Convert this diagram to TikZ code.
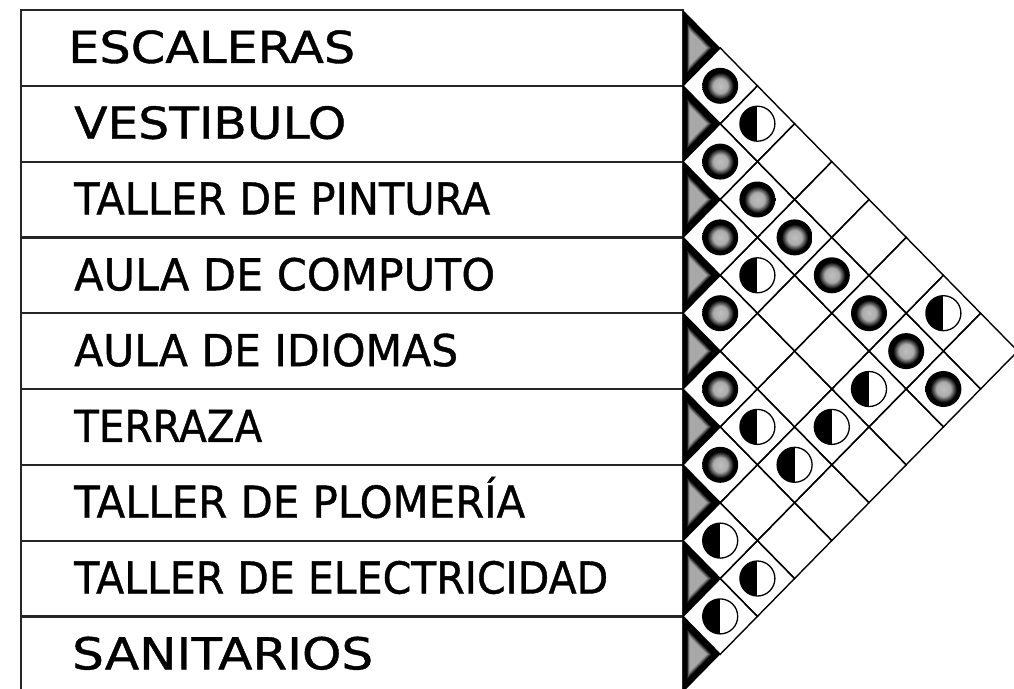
\documentclass[tikz,border=0pt]{standalone}
\usepackage{fontspec}
\setmainfont{DejaVu Sans}
\newfontfamily\labelfont{DejaVu Sans}[UprightFeatures={FakeBold=0.9}]
\usepackage{graphicx}
\pgfdeclareradialshading{dotshade}{\pgfpoint{0bp}{0bp}}{color(0bp)=(black!25); color(10bp)=(black!33); color(18.5bp)=(black); color(25bp)=(black); color(50bp)=(black)}
\tikzset{
  tableline/.style={line width=2.2pt, draw=black!85},
  gridline/.style={line width=1.4pt, draw=black, line join=miter},
  rowtext/.style={anchor=base west, inner sep=0pt, font=\labelfont\fontsize{44}{50}\selectfont},
  gdot/.style={circle, inner sep=0pt, minimum size=36pt, shade, shading=dotshade},
  hdot/.style={circle, draw=black, line width=1.3pt, inner sep=0pt, minimum size=35pt, fill=white,
    path picture={\fill[black] (path picture bounding box.south) rectangle (path picture bounding box.north west);}},
}
\begin{document}
\begin{tikzpicture}[x=1pt,y=-1pt]
\useasboundingbox (0,0) rectangle (1014,688);
\clip (0,0) rectangle (1014,688);
\def\hx{37.2}
\def\hy{37.9}
% table frame and row separators
\draw[tableline] (21,700) -- (21,10) -- (683,10) -- (683,700);
\foreach \k in {1,...,8} {
  \draw[tableline] (21,{10+2*\hy*\k}) -- (683,{10+2*\hy*\k});
}
% row labels
\foreach \i/\xs/\w/\t in {1/68/287/ESCALERAS, 2/74/272/VESTIBULO, 3/74/416/TALLER DE PINTURA, 4/74/421/AULA DE COMPUTO, 5/74/384/AULA DE IDIOMAS, 6/74/188/TERRAZA, 7/74/451/TALLER DE PLOMERÍA, 8/74/534/TALLER DE ELECTRICIDAD, 9/72/301/SANITARIOS} {
  \node[rowtext] (r\i) at (\xs,{10+\hy*(2*\i-1)+15}) {\resizebox{\w pt}{\height}{\t}};
}
% diamond grid cells
\foreach \i in {1,...,8} {
  \pgfmathtruncatemacro\js{\i+1}
  \foreach \j in {\js,...,9} {
    \pgfmathsetmacro\cx{683+\hx*(\j-\i)}
    \pgfmathsetmacro\cy{10+\hy*(\i+\j-1)}
    \draw[gridline] ({\cx-\hx},\cy) -- (\cx,{\cy-\hy}) -- ({\cx+\hx},\cy) -- (\cx,{\cy+\hy}) -- cycle;
  }
}
% row triangles
\foreach \i in {1,...,9} {
  \pgfmathsetmacro\yt{10+2*\hy*(\i-1)}
  \pgfmathsetmacro\yb{10+2*\hy*\i}
  \pgfmathsetmacro\yc{10+\hy*(2*\i-1)}
  \fill[black] (683,\yt) -- (683,\yb) -- ({683+\hx},\yc) -- cycle;
  \foreach \s/\col in {0.64/black!82, 0.58/black!64, 0.52/black!46, 0.46/black!34} {
    \begin{scope}[shift={({683+\hx/3},\yc)}, scale=\s]
      \fill[\col] ({-\hx/3},{-\hy}) -- ({-\hx/3},{\hy}) -- ({2*\hx/3},0) -- cycle;
    \end{scope}
  }
}
% strong relations (gray dots)
\foreach \i/\j in {1/2, 2/3, 3/4, 4/5, 5/6, 6/7, 2/4, 2/5, 2/6, 2/7, 2/8, 2/9} {
  \node[gdot] (s\i-\j) at ({683+\hx*(\j-\i)},{10+\hy*(\i+\j-1)}) {};
}
% medium relations (half circles)
\foreach \i/\j in {7/8, 8/9, 1/3, 3/5, 5/7, 7/9, 5/8, 4/8, 3/8, 1/8} {
  \node[hdot] (s\i-\j) at ({683+\hx*(\j-\i)},{10+\hy*(\i+\j-1)}) {};
}
\end{tikzpicture}
\end{document}
